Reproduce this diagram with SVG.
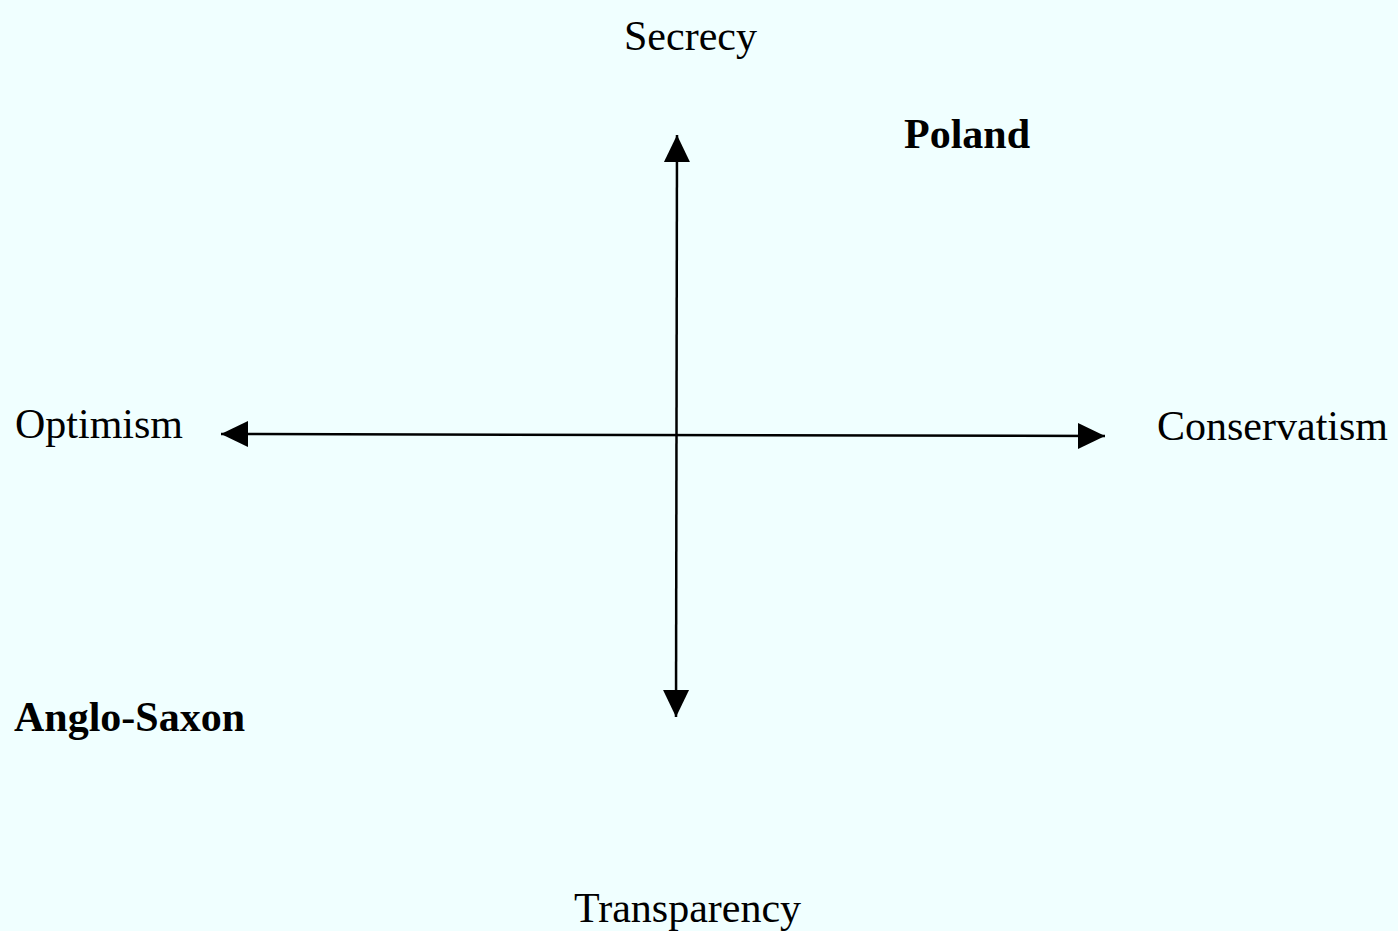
<svg xmlns="http://www.w3.org/2000/svg" width="1398" height="931" viewBox="0 0 1398 931">
  <style>
    .lbl { font-family: "Liberation Serif", "Times New Roman", serif; font-size: 42px; fill: #000; }
    .bold { font-weight: bold; }
    .axis { stroke: #000; stroke-width: 2.5; fill: none; }
  </style>
  <defs>
    <marker id="arrow" markerUnits="userSpaceOnUse" markerWidth="28" markerHeight="28" refX="27" refY="13" orient="auto-start-reverse" viewBox="0 0 28 26">
      <path d="M0,0 L27,13 L0,26 z" fill="#000"/>
    </marker>
  </defs>
  <rect width="1398" height="931" fill="#F0FFFF"/>
  <g id="connectors">
    <line class="axis" x1="677" y1="135" x2="676" y2="717" marker-start="url(#arrow)" marker-end="url(#arrow)"/>
    <line class="axis" x1="221" y1="434" x2="1105" y2="436" marker-start="url(#arrow)" marker-end="url(#arrow)"/>
  </g>
  <g id="secrecy"><text class="lbl" x="624" y="50">Secrecy</text></g>
  <g id="poland"><text class="lbl bold" x="904" y="148">Poland</text></g>
  <g id="optimism"><text class="lbl" x="15" y="438">Optimism</text></g>
  <g id="conservatism"><text class="lbl" x="1157" y="440">Conservatism</text></g>
  <g id="anglo-saxon"><text class="lbl bold" x="14" y="731">Anglo-Saxon</text></g>
  <g id="transparency"><text class="lbl" x="574" y="922">Transparency</text></g>
</svg>
